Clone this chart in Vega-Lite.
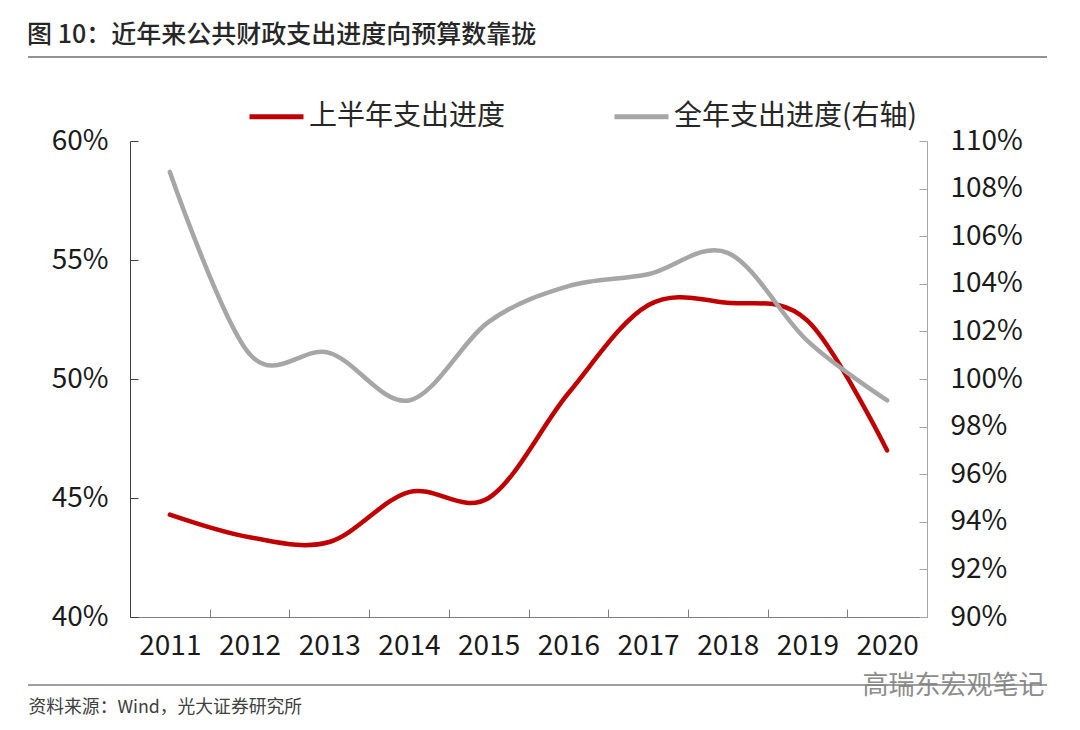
{
"$schema":"https://vega.github.io/schema/vega-lite/v6.json",
"width":797,"height":476,
"autosize":{"type":"none"},
"padding":{"left":130,"top":141,"right":153,"bottom":113},
"background":"white",
"title":{"text":"图 10：近年来公共财政支出进度向预算数靠拢","anchor":"start","frame":"group","dx":-103,"offset":8,"font":"Noto Sans CJK SC","fontSize":25,"fontWeight":500,"color":"#262626"},
"config":{"view":{"stroke":null},"font":"Noto Sans CJK SC"},
"datasets":{"d":[
{"year":"2011","series":"上半年支出进度","v":0.443},
{"year":"2012","series":"上半年支出进度","v":0.4335},
{"year":"2013","series":"上半年支出进度","v":0.4315},
{"year":"2014","series":"上半年支出进度","v":0.4525},
{"year":"2015","series":"上半年支出进度","v":0.45},
{"year":"2016","series":"上半年支出进度","v":0.494},
{"year":"2017","series":"上半年支出进度","v":0.531},
{"year":"2018","series":"上半年支出进度","v":0.532},
{"year":"2019","series":"上半年支出进度","v":0.5245},
{"year":"2020","series":"上半年支出进度","v":0.47},
{"year":"2011","series":"全年支出进度(右轴)","v":1.087},
{"year":"2012","series":"全年支出进度(右轴)","v":1.0105},
{"year":"2013","series":"全年支出进度(右轴)","v":1.011},
{"year":"2014","series":"全年支出进度(右轴)","v":0.991},
{"year":"2015","series":"全年支出进度(右轴)","v":1.024},
{"year":"2016","series":"全年支出进度(右轴)","v":1.039},
{"year":"2017","series":"全年支出进度(右轴)","v":1.044},
{"year":"2018","series":"全年支出进度(右轴)","v":1.053},
{"year":"2019","series":"全年支出进度(右轴)","v":1.016},
{"year":"2020","series":"全年支出进度(右轴)","v":0.991}
]},
"data":{"name":"d"},
"encoding":{
"x":{"field":"year","type":"ordinal","scale":{"paddingInner":0,"paddingOuter":0},
"axis":{"title":"资料来源：Wind，光大证券研究所","titleFontSize":17.8,"titleFontWeight":"normal","titleColor":"#404040","titleAnchor":"start","titleAlign":"left","titleBaseline":"alphabetic","titleX":-102,"titleY":95,
"labelAngle":0,"labelFontSize":28,"labelColor":"#1a1a1a","labelPadding":23,"labelFlush":false,"tickBand":"extent","tickSize":-8,"tickColor":"#7f7f7f","domainColor":"#7f7f7f","ticks":true,"grid":false}},
"color":{"field":"series","type":"nominal","scale":{"domain":["上半年支出进度","全年支出进度(右轴)"],"range":["#C00000","#A6A6A6"]},
"legend":{"title":null,"orient":"none","legendX":117,"legendY":-54,"direction":"horizontal","columns":2,"columnPadding":98,"symbolType":"stroke","symbolSize":2916,"symbolStrokeWidth":5,"labelFontSize":28,"labelColor":"#262626","labelOffset":3,"labelLimit":400}}
},
"layer":[
{"transform":[{"filter":"datum.series === '上半年支出进度'"}],
"mark":{"type":"line","interpolate":"cardinal","tension":0,"strokeWidth":4.5,"strokeCap":"round","clip":false},
"encoding":{"y":{"field":"v","type":"quantitative","scale":{"domain":[0.4,0.6],"nice":false,"zero":false},
"axis":{"title":null,"orient":"left","values":[0.4,0.45,0.5,0.55,0.6],"format":".0%","labelFontSize":28,"labelColor":"#1a1a1a","labelPadding":30,"tickSize":-8,"tickColor":"#404040","domainColor":"#404040","grid":false}}}},
{"transform":[{"filter":"datum.series === '全年支出进度(右轴)'"}],
"mark":{"type":"line","interpolate":"cardinal","tension":0,"strokeWidth":4.5,"strokeCap":"round","clip":false},
"encoding":{"y":{"field":"v","type":"quantitative","scale":{"domain":[0.9,1.1],"nice":false,"zero":false},
"axis":{"orient":"right","values":[0.9,0.92,0.94,0.96,0.98,1.0,1.02,1.04,1.06,1.08,1.1],"format":".0%","labelFontSize":28,"labelColor":"#1a1a1a","labelPadding":31,"tickSize":-8,"tickColor":"#A6A6A6","domainColor":"#A6A6A6","grid":false,
"title":"高瑞东宏观笔记","titleAngle":0,"titleFontSize":26,"titleFontWeight":"normal","titleColor":"#8c8c8c","titleAlign":"left","titleBaseline":"alphabetic","titleX":-65,"titleY":552}}}},
{"mark":{"type":"rule","stroke":"#262626","strokeWidth":1.2,"clip":false},
"data":{"values":[{"k":1}]},
"encoding":{"x":{"value":-102},"x2":{"value":917},"y":{"value":-84},"color":{"value":"#262626"}}},
{"mark":{"type":"rule","stroke":"#7f7f7f","strokeWidth":1.5,"clip":false},
"data":{"values":[{"k":1}]},
"encoding":{"x":{"value":-102},"x2":{"value":917},"y":{"value":544},"color":{"value":"#7f7f7f"}}}
],
"resolve":{"scale":{"y":"independent"}}
}
